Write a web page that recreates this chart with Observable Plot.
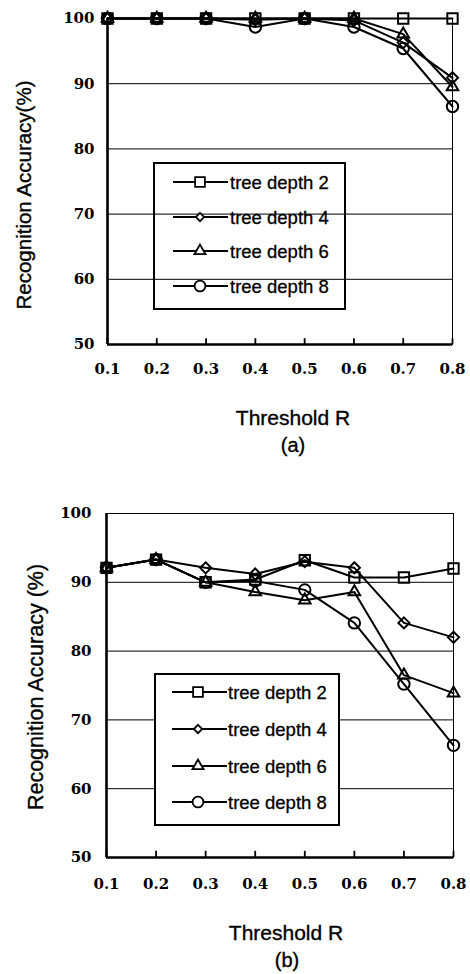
<!DOCTYPE html>
<html><head><meta charset="utf-8">
<script src="https://cdn.jsdelivr.net/npm/d3@7"></script>
<script src="https://cdn.jsdelivr.net/npm/@observablehq/plot@0.6"></script>
<style>
body{margin:0;background:#fff;}
#wrap{position:relative;width:470px;height:974px;overflow:hidden;}
.abs{position:absolute;}
.lab{position:absolute;font-family:"Liberation Sans",Arial,sans-serif;color:#000;-webkit-text-stroke:0.35px #000;white-space:nowrap;transform:translate(-50%,-50%);line-height:1;}
.rot{transform:translate(-50%,-50%) rotate(-90deg);}
</style></head><body><div id="wrap"></div>
<script>
// ---- data ----
const thresholds = [0.1, 0.2, 0.3, 0.4, 0.5, 0.6, 0.7, 0.8];
const yTicks = [50, 60, 70, 80, 90, 100];
const gridValues = [60, 70, 80, 90];
const depthLabels = ["tree depth 2", "tree depth 4", "tree depth 6", "tree depth 8"];
const symbolNames = ["square2", "diamond2", "triangle2", "circle"];

// (a)
const aDepth2 = [100, 100, 100, 100, 100, 100, 100, 100];
const aDepth4 = [100, 100, 100, 99.8, 100, 99.7, 96.3, 90.9];
const aDepth6 = [100, 100, 100, 100, 100, 100, 97.6, 89.5];
const aDepth8 = [100, 100, 100, 98.7, 100, 98.7, 95.4, 86.5];
// (b)
const bDepth2 = [92.1, 93.3, 90.0, 90.4, 93.2, 90.7, 90.7, 92.0];
const bDepth4 = [92.1, 93.3, 92.1, 91.2, 93.0, 92.1, 84.1, 82.0];
const bDepth6 = [92.1, 93.3, 90.0, 88.6, 87.4, 88.6, 76.5, 73.9];
const bDepth8 = [92.1, 93.3, 90.0, 90.2, 88.9, 84.1, 75.2, 66.3];

const symbolR = [6.6, 5.0, 5.5, 5.7];
const legendR = [6.2, 3.8, 5.3, 5.4];
const innerTick = 0.9; // inward tick length in y units

const wrap = document.getElementById("wrap");

function tidy(arrs) {
  return arrs.flatMap((vals, i) => vals.map((v, j) => ({x: thresholds[j], y: v, s: depthLabels[i], k: i})));
}

function chart(arrs, o) {
  const data = tidy(arrs);
  const marks = [
    Plot.ruleY(gridValues, {stroke: "#000", strokeWidth: 1}),
    Plot.frame({stroke: "#000", strokeWidth: 1}),
    Plot.ruleX([thresholds[0]], {stroke: "#000", strokeWidth: 2.6}),
    Plot.ruleY([yTicks[0]], {stroke: "#000", strokeWidth: 2.6}),
    Plot.ruleX(thresholds, {x: d => d, y1: () => yTicks[0], y2: () => yTicks[0] + innerTick, stroke: "#000", strokeWidth: 1.8}),
    Plot.axisX(thresholds, {tickSize: 0, tickPadding: o.xPad, tickFormat: d => d.toFixed(1), label: null,
      fontFamily: "DejaVu Serif, serif", fontSize: 15, fontWeight: "bold", fill: "#000"}),
    Plot.axisY(yTicks, {tickSize: 0, tickPadding: o.yPad, label: null,
      fontFamily: "DejaVu Serif, serif", fontSize: 15, fontWeight: "bold", fill: "#000"}),
    Plot.line(data, {x: "x", y: "y", z: "s", stroke: "#000", strokeWidth: 2})
  ];
  depthLabels.forEach((lab, i) => {
    marks.push(Plot.dot(data.filter(d => d.k === i), {x: "x", y: "y", symbol: symbolNames[i], r: symbolR[i],
      stroke: "#000", strokeWidth: 2, fill: "none"}));
  });
  const svg = Plot.plot({
    width: 470, height: o.height,
    marginTop: o.mt, marginBottom: o.mb, marginLeft: o.ml, marginRight: o.mr,
    x: {domain: [thresholds[0], thresholds[thresholds.length - 1]]},
    y: {domain: [yTicks[0], yTicks[yTicks.length - 1]]},
    style: {background: "transparent", overflow: "visible"},
    marks
  });
  svg.classList.add("abs");
  svg.style.left = "0px";
  svg.style.top = o.top + "px";
  wrap.appendChild(svg);
}

function label(text, x, y, size, rotate) {
  const d = document.createElement("div");
  d.className = "lab" + (rotate ? " rot" : "");
  d.textContent = text;
  d.style.left = x + "px";
  d.style.top = y + "px";
  d.style.fontSize = size + "px";
  wrap.appendChild(d);
}

function legend(o) {
  const svg = d3.create("svg").attr("class", "abs")
    .attr("width", o.w + 4).attr("height", o.h + 4)
    .style("left", (o.x - 2) + "px").style("top", (o.y - 2) + "px");
  svg.append("rect").attr("x", 2).attr("y", 2).attr("width", o.w).attr("height", o.h)
    .attr("fill", o.fill).attr("stroke", "#000").attr("stroke-width", 2);
  const symMap = {square2: d3.symbolSquare2, diamond2: d3.symbolDiamond2, triangle2: d3.symbolTriangle2, circle: d3.symbolCircle};
  depthLabels.forEach((lab, i) => {
    const cy = o.rows[i] - o.y + 2;
    const g = svg.append("g");
    g.append("line").attr("x1", o.lx1 - o.x + 2).attr("x2", o.lx2 - o.x + 2).attr("y1", cy).attr("y2", cy)
      .attr("stroke", "#000").attr("stroke-width", 1.8);
    g.append("path").attr("transform", `translate(${o.mx - o.x + 2},${cy})`)
      .attr("d", d3.symbol(symMap[symbolNames[i]], Math.PI * legendR[i] * legendR[i])())
      .attr("fill", "#fff").attr("stroke", "#000").attr("stroke-width", 1.8);
    g.append("text").attr("x", o.tx - o.x + 2).attr("y", cy).attr("dy", "0.36em")
      .attr("font-family", "Liberation Sans, Arial, sans-serif").attr("font-size", o.fs)
      .attr("stroke", "#000").attr("stroke-width", 0.3)
      .text(lab);
  });
  wrap.appendChild(svg.node());
}

// chart (a)
chart([aDepth2, aDepth4, aDepth6, aDepth8], {top: 0, height: 390, mt: 18, mb: 46, ml: 107, mr: 18, xPad: 19, yPad: 13});
legend({x: 154, y: 163, w: 191, h: 146, rows: [182, 217, 251, 286], lx1: 173, lx2: 228, mx: 200, tx: 230, fs: 18.5, fill: "none"});
label("Recognition Accuracy(%)", 24, 195, 20.5, true);
label("Threshold R", 293, 417, 21);
label("(a)", 293, 445, 20);

// chart (b)
chart([bDepth2, bDepth4, bDepth6, bDepth8], {top: 495, height: 408, mt: 18, mb: 46, ml: 106, mr: 17, xPad: 21, yPad: 15});
legend({x: 155, y: 674, w: 184, h: 151, rows: [692, 729, 766, 802], lx1: 172, lx2: 227, mx: 198, tx: 228, fs: 18.5, fill: "#fff"});
label("Recognition Accuracy (%)", 37, 687, 21.5, true);
label("Threshold R", 286, 932, 21);
label("(b)", 287, 960, 20);
</script></body></html>
